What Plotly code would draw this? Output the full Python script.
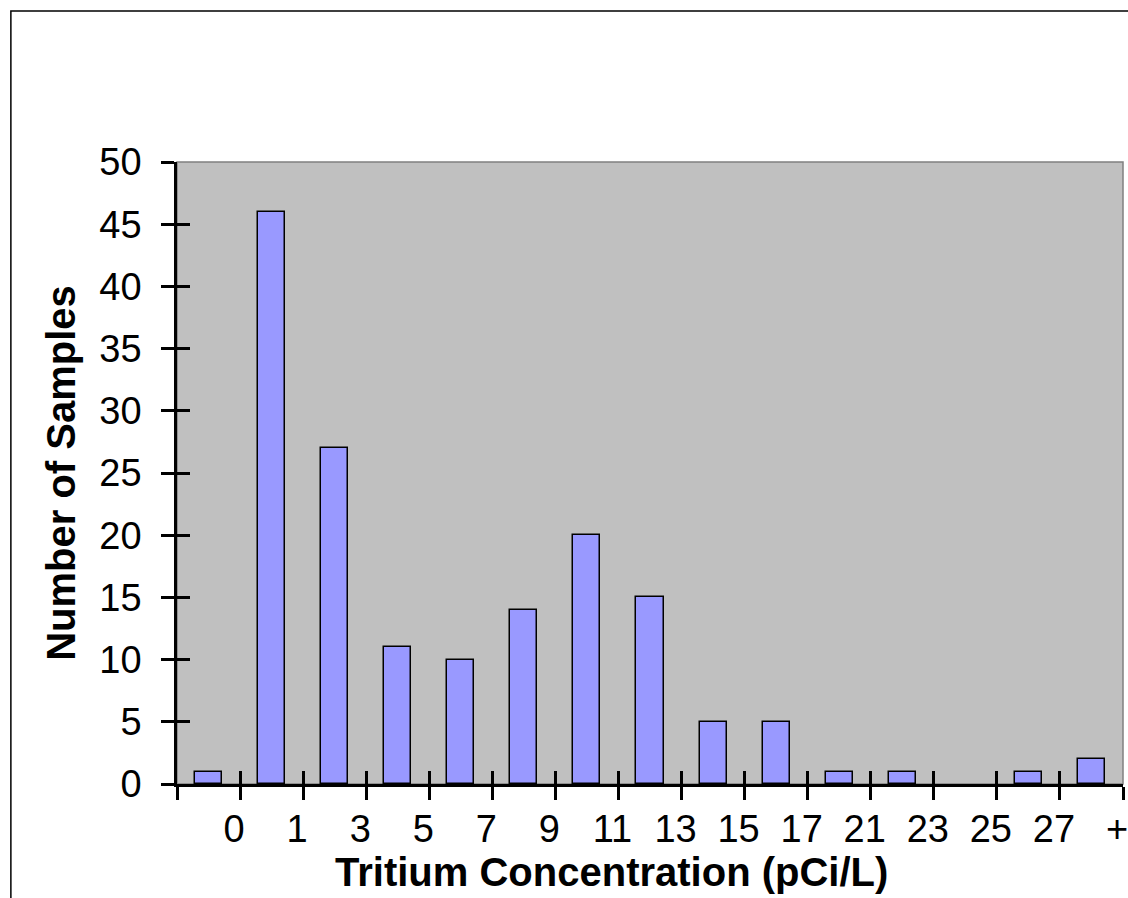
import plotly.graph_objects as go

# histogram bins (upper-limit labels) and sample counts
bin_labels = ["0", "1", "3", "5", "7", "9", "11", "13", "15", "17", "21", "23", "25", "27", "+"]
counts = [1, 46, 27, 11, 10, 14, 20, 15, 5, 5, 1, 1, 0, 1, 2]

y_ticks = list(range(0, 51, 5))

W, H = 1128, 898
L, R, T, B = 177, 0, 162, 114

n = len(bin_labels)
centers = [i + 0.5 for i in range(n)]
bounds = list(range(n + 1))

fig = go.Figure()
fig.add_trace(go.Bar(
    x=centers,
    y=counts,
    width=0.43,
    marker=dict(color="#9999FF",
                line=dict(color="black", width=[1.5 if c > 0 else 0 for c in counts])),
    showlegend=False,
    hoverinfo="y",
))

font = "Liberation Sans, Arial, sans-serif"
tick_font = dict(family=font, size=38, color="black")

fig.update_layout(
    width=W,
    height=H,
    margin=dict(l=L, r=R, t=T, b=B),
    paper_bgcolor="white",
    plot_bgcolor="#C0C0C0",
    bargap=0,
    xaxis=dict(
        range=[0, n],
        tickvals=bounds,
        ticktext=[""] + bin_labels,
        ticks="outside",
        ticklen=13,
        tickwidth=2.5,
        tickcolor="black",
        showline=True,
        linecolor="black",
        linewidth=2.5,
        showgrid=False,
        zeroline=False,
        tickfont=tick_font,
        ticklabelshift=-6,
        ticklabelstandoff=-3,
        ticklabeloverflow="allow",
        fixedrange=True,
    ),
    xaxis2=dict(
        overlaying="x",
        matches="x",
        tickvals=bounds,
        showticklabels=False,
        ticks="inside",
        ticklen=13,
        tickwidth=2.5,
        tickcolor="black",
        showgrid=False,
        zeroline=False,
        showline=False,
    ),
    yaxis=dict(
        range=[0, 50],
        tickvals=y_ticks,
        ticks="outside",
        ticklen=13,
        tickwidth=2.5,
        tickcolor="black",
        showline=True,
        linecolor="black",
        linewidth=2.5,
        showgrid=False,
        zeroline=False,
        tickfont=tick_font,
        ticklabelstandoff=12,
        title=dict(text="<b>Number of Samples</b>",
                   font=dict(family=font, size=40, color="black"), standoff=12),
        fixedrange=True,
    ),
    yaxis2=dict(
        overlaying="y",
        matches="y",
        tickvals=y_ticks,
        showticklabels=False,
        ticks="inside",
        ticklen=13,
        tickwidth=2.5,
        tickcolor="black",
        showgrid=False,
        zeroline=False,
        showline=False,
    ),
)

# dummy trace so the overlay tick axes are drawn
fig.add_trace(go.Scatter(x=[None], y=[None], xaxis="x2", yaxis="y2",
                         showlegend=False, hoverinfo="skip"))

pw, ph = W - L - R, H - T - B

# x axis title sits tight under the tick labels
fig.add_annotation(
    text="<b>Tritium Concentration (pCi/L)</b>",
    xref="paper", yref="paper", x=(614 - L) / pw, y=-(872 - (H - B)) / ph,
    xanchor="center", yanchor="middle", showarrow=False,
    font=dict(family=font, size=40, color="black"),
)

# plot area frame (grey top/right edges) and outer chart frame
fig.add_shape(type="rect", xref="x domain", yref="y domain", x0=0, x1=1, y0=0, y1=1,
              line=dict(color="#808080", width=1.5), layer="below")
fig.add_shape(type="rect", xref="paper", yref="paper",
              x0=(10 - L) / pw, x1=(W + 20 - L) / pw,
              y0=-(H + 20 - (H - B)) / ph, y1=(H - B - 11) / ph,
              line=dict(color="black", width=1.5), layer="below")

fig.write_html("out.html", config={"displayModeBar": False},
               post_script="document.body.style.margin='0';")
